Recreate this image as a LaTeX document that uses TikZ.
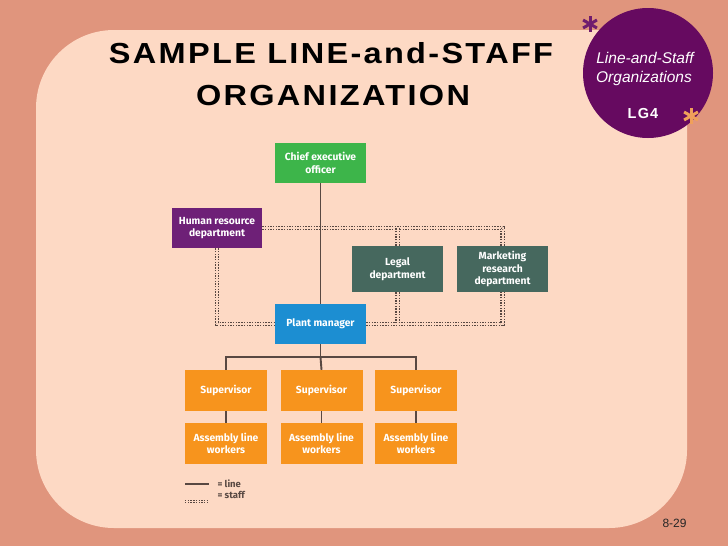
\documentclass[tikz,border=0pt]{standalone}
\usepackage{fontspec}
\setmainfont{Liberation Sans}
\newfontfamily\boxfont{Fira Sans}
\newfontfamily\titlefont[LetterSpace=8,FakeStretch=1.12]{Liberation Sans}
\newfontfamily\lgfont[LetterSpace=8]{Liberation Sans}
\definecolor{bgsalmon}{RGB}{224,149,125}
\definecolor{panel}{RGB}{253,217,196}
\definecolor{circ}{RGB}{102,10,96}
\definecolor{astp}{RGB}{112,28,110}
\definecolor{asto}{RGB}{240,160,90}
\definecolor{ceog}{RGB}{61,181,74}
\definecolor{hrp}{RGB}{110,32,119}
\definecolor{teal}{RGB}{70,104,94}
\definecolor{pmb}{RGB}{28,142,210}
\definecolor{orng}{RGB}{247,148,29}
\definecolor{linec}{RGB}{88,72,66}
\begin{document}
\begin{tikzpicture}[x=1pt,y=-1pt,
  box/.style={minimum width=91pt, minimum height=40pt, inner sep=0pt, text=white, align=center,
    font=\boxfont\bfseries\fontsize{10.3}{12.6}\selectfont},
  linkline/.style={draw=linec, line width=1.9pt},
  staff/.style={draw=linec, line width=1.4pt, double=panel, double distance=2pt, dash pattern=on 1.4pt off 1.3pt},
  legtext/.style={anchor=base west, text=linec, font=\boxfont\bfseries\fontsize{9.5}{11}\selectfont},
  astline/.style={line width=3pt}
]
\useasboundingbox (0,0) rectangle (728,546);
\fill[bgsalmon] (0,0) rectangle (728,546);
\fill[panel, rounded corners=78pt] (36,30) rectangle (687,528);
\fill[panel] (600,30) rectangle (687,140);
% badge
\fill[circ] (648,73) circle (65);
\node[anchor=base, text=white, font=\itshape\fontsize{15.5}{18}\selectfont] (b1) at (645,63) {Line-and-Staff};
\node[anchor=base, text=white, font=\itshape\fontsize{15.5}{18}\selectfont] (b2) at (644,82) {Organizations};
\node[anchor=base, text=white, font=\lgfont\bfseries\fontsize{14.5}{17}\selectfont] (b3) at (643,118) {LG4};
\foreach \a in {90,30,150}{
  \draw[astp, astline] (590,24) ++(\a:-8) -- ++(\a:16);
  \draw[asto, astline] (691,116) ++(\a:-8) -- ++(\a:16);
}
% title
\node[anchor=base, font=\titlefont\bfseries\fontsize{29}{32}\selectfont] (t1) at (331,63) {SAMPLE LINE-and-STAFF};
\node[anchor=base, font=\titlefont\bfseries\fontsize{29}{32}\selectfont] (t2) at (333,105) {ORGANIZATION};
% boxes
\node[box, fill=ceog] (ceo) at (320.5,163) {Chief executive\\officer};
\node[box, fill=hrp, minimum width=90pt] (hr) at (217,228) {Human resource\\department};
\node[box, fill=teal, minimum height=46pt] (legal) at (397.5,269) {Legal\\department};
\node[box, fill=teal, minimum height=46pt] (mkt) at (502.5,269) {Marketing\\research\\department};
\node[box, fill=pmb] (pm) at (320.5,324) {Plant manager};
\foreach \i/\x in {1/226,2/321.5,3/416}{
  \node[box, fill=orng, minimum width=82pt, minimum height=41pt] (sup\i) at (\x,390.5) {Supervisor};
  \node[box, fill=orng, minimum width=82pt, minimum height=41pt] (asm\i) at (\x,443.5) {Assembly line\\workers};
}
% staff lines
\draw[staff] (hr.east) -| (mkt.north);
\draw[staff] (legal.north) -- (legal.north |- hr.east);
\draw[staff] (legal.south) -- (legal.south |- pm.east);
\draw[staff] (pm.east) -| (mkt.south);
\draw[staff] (hr.south) |- (pm.west);
% line links
\draw[linkline] (ceo.south) -- (pm.north);
\path (pm.south) ++(0,13) coordinate (bus);
\draw[linkline] (pm.south) -- (bus);
\draw[linkline] (sup1.north) |- (bus) -| (sup3.north);
\draw[linkline] (bus) -- (sup2.north);
\foreach \i in {1,2,3}{ \draw[linkline] (sup\i.south) -- (asm\i.north); }
% legend
\coordinate (la) at (185,484);
\coordinate (lb) at (209,484);
\coordinate (sa) at (185,501.5);
\coordinate (sb) at (209,501.5);
\draw[linkline, line width=1.3pt] (la) -- (lb);
\draw[staff, line width=0.9pt, double distance=1.5pt] (sa) -- (sb);
\node[legtext] (lt1) at (214,487) {= line};
\node[legtext] (lt2) at (214,498) {= staff};
% page number
\node[anchor=base, font=\fontsize{12}{14}\selectfont, text=black!85] (pg) at (674.5,527.5) {8-29};
\end{tikzpicture}
\end{document}
